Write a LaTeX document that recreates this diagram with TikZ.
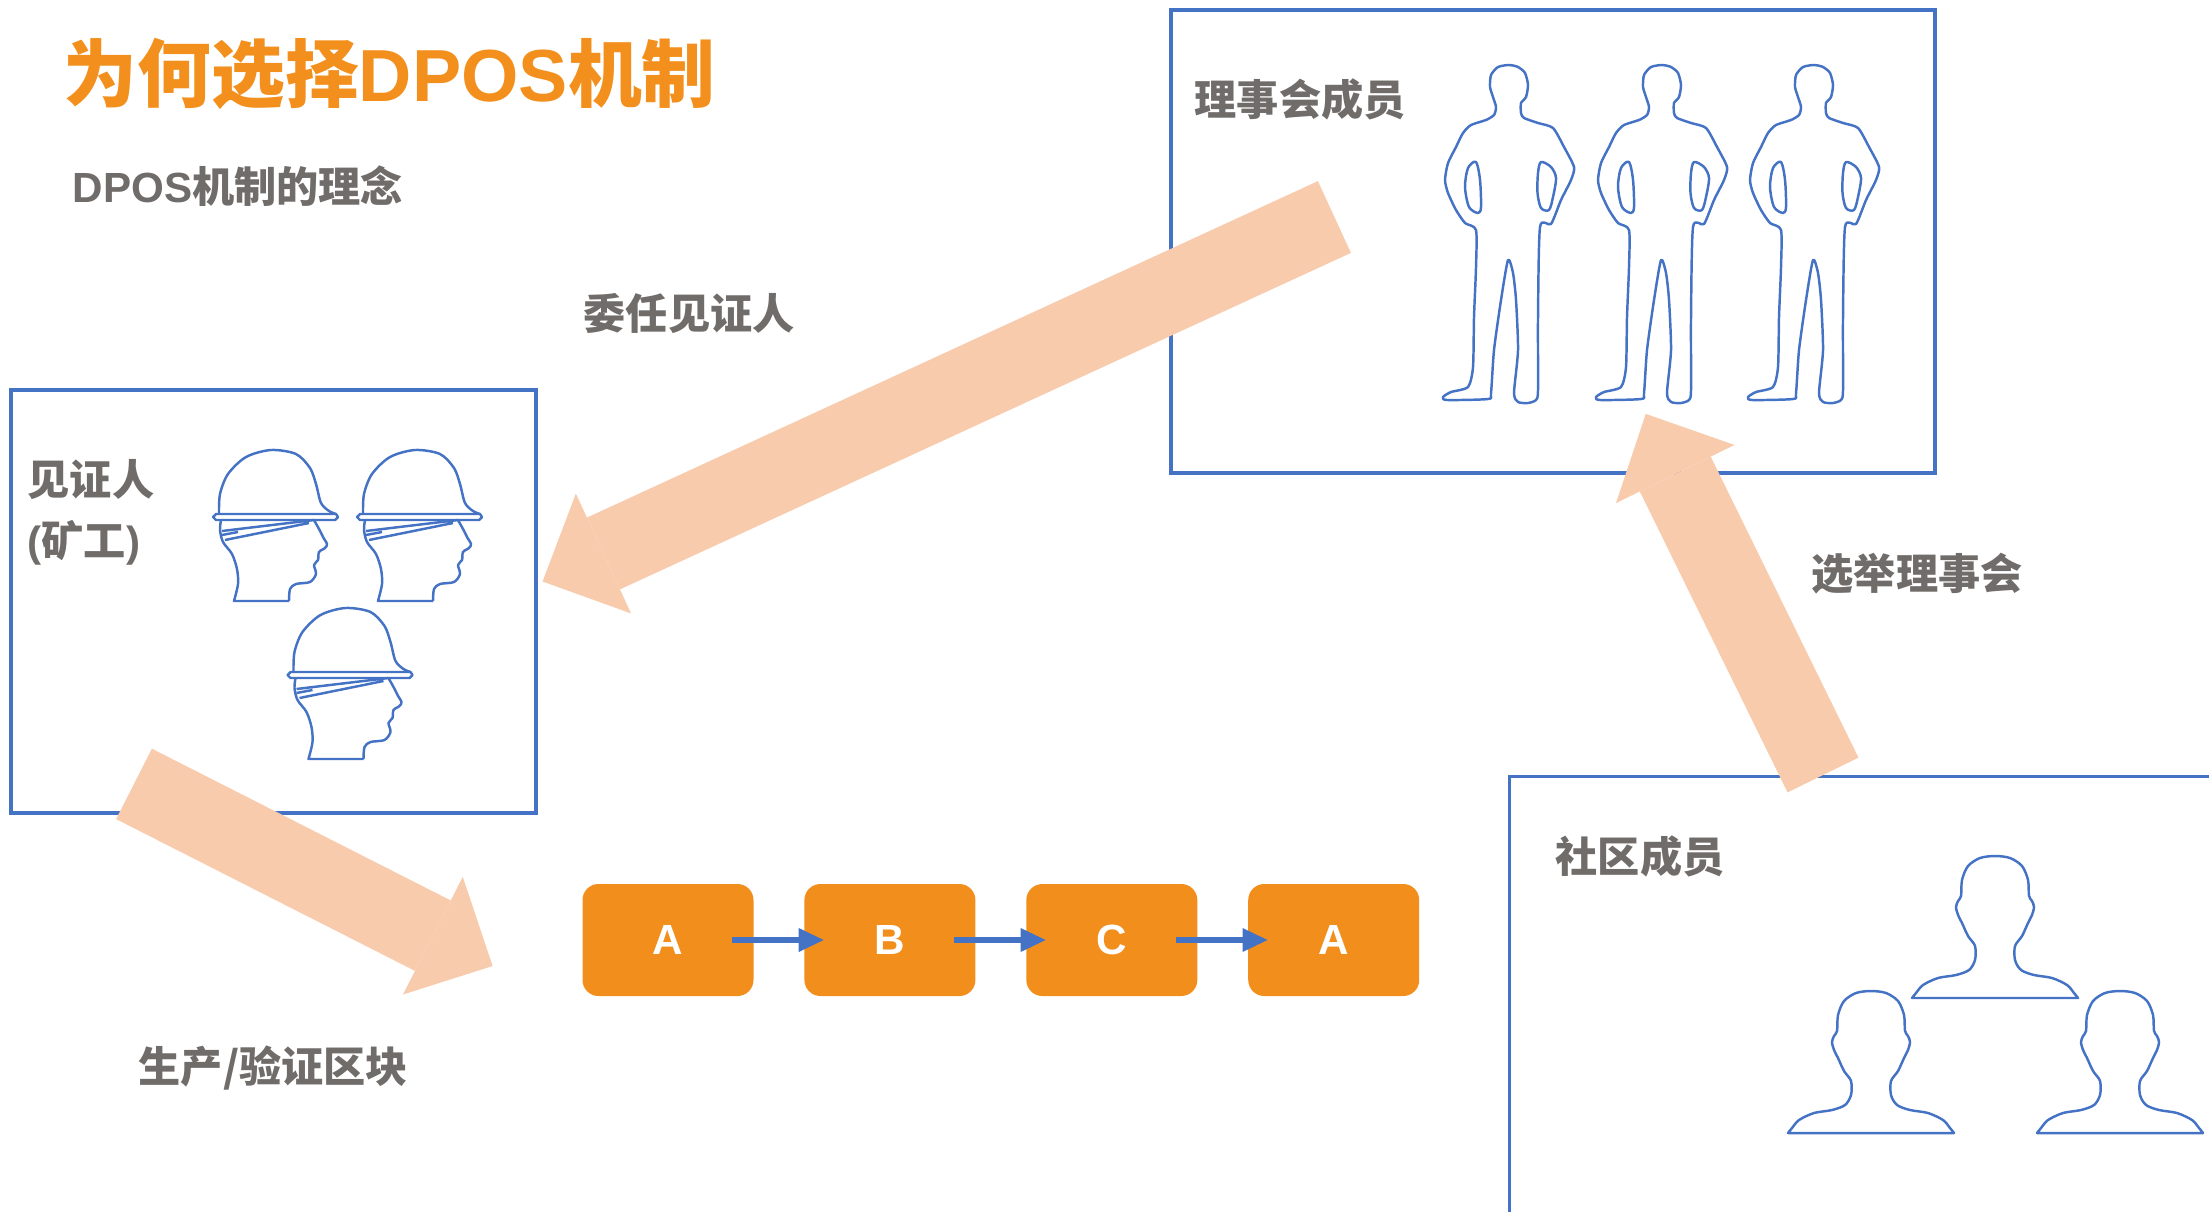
\documentclass[tikz,border=0pt]{standalone}
\usepackage{fontspec}
\setmainfont{Liberation Sans}
\newfontfamily\cjk{Noto Sans CJK SC}
\usepackage{tikz}
\usetikzlibrary{arrows.meta, positioning}

\definecolor{titleorange}{RGB}{243,144,29}
\definecolor{blockorange}{RGB}{242,143,28}
\definecolor{peach}{RGB}{248,203,173}
\definecolor{lineblue}{RGB}{68,114,196}
\definecolor{textgray}{RGB}{112,108,106}

\newcommand{\zh}[1]{{\cjk #1}}

\tikzstyle{panel} = [draw=lineblue, line width=0.9pt, rectangle, inner sep=0pt]
\tikzstyle{block} = [fill=blockorange, rectangle, rounded corners=0.16cm, minimum width=1.71cm, minimum height=1.12cm, text=white, font=\fontsize{12}{14}\selectfont\bfseries]
\tikzstyle{graytext} = [text=textgray, inner sep=0pt, anchor=base west, font=\fontsize{12}{14}\selectfont\bfseries]
\tikzstyle{bigarrow} = [peach, line width=0.79cm, -{Triangle[length=0.67cm, width=1.32cm, line width=0pt]}]
\tikzstyle{link} = [lineblue, line width=0.06cm, -{Triangle[length=0.25cm, width=0.24cm, line width=0pt]}]
\tikzstyle{icon} = [draw=lineblue, line width=0.7pt, line join=round, x=0.1mm, y=0.1mm]

% icons, drawn in pixel-sized units
\tikzset{
  man/.pic={
    \draw[icon] plot[smooth cycle, tension=0.4] coordinates {
      (0,339) (-11,337) (-18,329) (-19,317) (-16,307) (-13,297) (-15,289)
      (-23,284) (-38,279) (-46,271) (-53,257) (-61,241) (-64,224) (-61,211)
      (-53,194) (-44,181) (-33,174) (-33,137) (-35,87) (-36,37) (-41,17)
      (-58,12) (-66,7) (-62,4) (-21,5) (-18,11) (-15,54) (-8,104) (-1,144)
      (4,131) (7,104) (9,54) (5,11) (9,2) (19,1) (27,4) (29,14) (29,87)
      (31,177) (42,180) (52,204) (62,224) (65,237) (55,257) (44,276) (29,281)
      (15,286) (12,291) (12,301) (17,307) (19,319) (16,331) (9,337)};
    \draw[icon] plot[smooth cycle, tension=0.5] coordinates {
      (-33,242) (-41,236) (-44,217) (-40,197) (-31,191) (-28,197) (-29,224)};
    \draw[icon] plot[smooth cycle, tension=0.5] coordinates {
      (32,242) (42,237) (47,226) (44,207) (40,194) (32,196) (28.5,211) (29,231)};
  },
  miner/.pic={
    % helmet
    \draw[icon] plot[smooth] coordinates {
      (6,88) (7,108) (15,128) (33,145) (58,152) (83,148) (97,134) (103,118)
      (108,99) (116,91) (123,88)};
    \draw[icon] (0,85) -- (3,88) -- (123,88) -- (125,85) -- (122,82) -- (3,82) -- cycle;
    % head
    \draw[icon] plot[smooth] coordinates {
      (8,82) (7,72) (10,60) (19,48) (24,33) (25,18) (21,1)} -- (76,1)
      plot[smooth] coordinates {
      (76,1) (77,13) (83,18) (97,20) (103,28) (101,37) (105,42) (106,50)
      (112,54) (114,58) (110,65) (106,73) (101,82)};
    % strap
    \draw[icon] (9,71) -- (101,82) (12,62) -- (96,79) (9,67) -- (25,70);
  },
  bust/.pic={
    \draw[icon] plot[smooth, tension=0.5] coordinates {
      (-83,1) (-79,6) (-72,14) (-57,21) (-39,24) (-26,29) (-20,39) (-20,53)
      (-27,63) (-33,76) (-37,84) (-39,92) (-37,98) (-34,103) (-33,119)
      (-27,133) (-15,141) (0,143) (15,141) (27,133) (33,119) (34,103) (37,98)
      (39,92) (37,84) (33,76) (27,63) (20,53) (20,39) (26,29) (39,24) (57,21)
      (72,14) (79,6) (83,1)} -- cycle;
  }
}

\begin{document}
\begin{tikzpicture}
  \useasboundingbox (0,0) rectangle (22.09,12.11);
  \clip (0,0) rectangle (22.09,12.11);

  % Headings
  \node[graytext, text=titleorange, font=\fontsize{21}{25}\selectfont\bfseries] (title) at (0.63,11.10) {\zh{为何选择}DPOS\zh{机制}};
  \node[graytext] (idea) at (0.72,10.09) {DPOS\zh{机制的理念}};

  % Place the boxes
  \node[panel, minimum width=7.64cm, minimum height=4.63cm] (council) at (15.53,9.695) {};
  \node[panel, minimum width=5.25cm, minimum height=4.23cm] (witness) at (2.735,6.095) {};
  \node[panel, anchor=north west, minimum width=7.6cm, minimum height=4.9cm] (community) at (15.08,4.36) {};

  % People
  \foreach \x in {15.09,16.62,18.14}
    \pic at (\x,8.07) {man};
  \pic at (2.13,6.09) {miner};
  \pic at (3.57,6.09) {miner};
  \pic at (2.875,4.51) {miner};
  \pic at (19.95,2.12) {bust};
  \pic at (18.71,0.77) {bust};
  \pic at (21.20,0.77) {bust};

  % Connect the boxes
  \draw[bigarrow] ([xshift=1.65cm, yshift=0.245cm]council.west) -- ([xshift=0.05cm, yshift=0.2cm]witness.east);
  \draw[bigarrow] ([xshift=3.15cm]community.north west) -- ([xshift=0.927cm, yshift=0.607cm]council.south);

  % The block chain
  \node[block] (a1) at (6.68,2.71) {A};
  \node[block, right=0.495cm of a1] (b) {B};
  \node[block, right=0.495cm of b] (c) {C};
  \node[block, right=0.495cm of c] (a2) {A};
  \draw[bigarrow] ([xshift=-1.395cm, yshift=0.307cm]witness.south) -- ([xshift=-0.892cm, yshift=-0.26cm]a1.west);
  \draw[link] ([xshift=-0.22cm]a1.east) -- ([xshift=0.2cm]b.west);
  \draw[link] ([xshift=-0.22cm]b.east) -- ([xshift=0.2cm]c.west);
  \draw[link] ([xshift=-0.22cm]c.east) -- ([xshift=0.2cm]a2.west);

  % Labels
  \node[graytext] (appoint) at (5.83,8.82) {\zh{委任见证人}};
  \node[graytext] (members) at (11.94,10.96) {\zh{理事会成员}};
  \node[graytext] (witnessname) at (0.27,7.16) {\zh{见证人}};
  \node[graytext] (minername) at (0.27,6.55) {(\zh{矿工})};
  \node[graytext] (people) at (15.55,3.39) {\zh{社区成员}};
  \node[graytext] (elect) at (18.11,6.22) {\zh{选举理事会}};
  \node[graytext] (produce) at (1.38,1.29) {\zh{生产/验证区块}};
\end{tikzpicture}
\end{document}
